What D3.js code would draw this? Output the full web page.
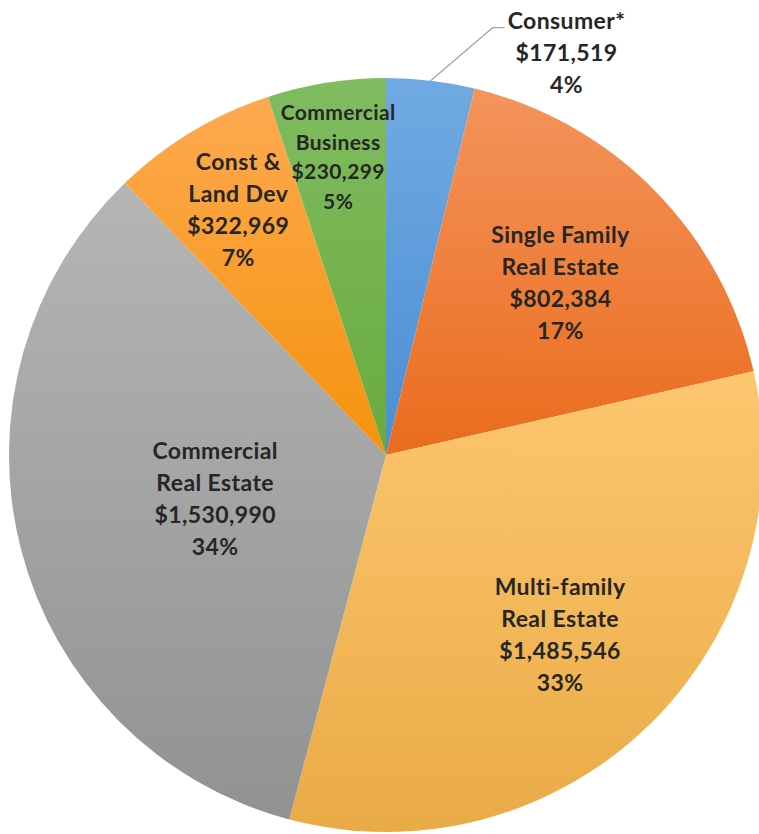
<!DOCTYPE html>
<html>
<head>
<meta charset="utf-8">
<script src="https://cdn.jsdelivr.net/npm/d3@7"></script>
<style>
  html, body { margin: 0; padding: 0; background: #fff; }
  svg text { font-family: Lato, "Open Sans", sans-serif; font-weight: 700; fill: #262626; letter-spacing: 0.4px; }
</style>
</head>
<body>
<div id="chart"></div>
<script>
// data
const categories = ['Consumer*', 'Single Family\nReal Estate', 'Multi-family\nReal Estate',
    'Commercial\nReal Estate', 'Const &\nLand Dev', 'Commercial\nBusiness'];
const values = [171519, 802384, 1485546, 1530990, 322969, 230299];
const percentLabels = ['4%', '17%', '33%', '34%', '7%', '5%'];

// styling / layout
const topColors = ['#71aae2', '#f4945c', '#fec66f', '#b5b5b5', '#fda950', '#80bc60'];
const bottomColors = ['#4a8ed4', '#ea6c1d', '#e9ab46', '#929292', '#f5930c', '#69ab3e'];
const labelRadius = [0, 0.65, 0.665, 0.468, 0.76, 0.80];
const labelSize = [23, 23, 23, 23, 23, 21];
const lineHeight = [32, 32, 32, 32, 32, 29.5];

const width = 759, height = 834;
const cx = 386, cy = 455, R = 377;

const svg = d3.select('#chart').append('svg')
    .attr('width', width)
    .attr('height', height);

const defs = svg.append('defs');
topColors.forEach((c, i) => {
    const g = defs.append('linearGradient')
        .attr('id', 'grad' + i)
        .attr('x1', 0).attr('y1', 0).attr('x2', 0).attr('y2', 1);
    g.append('stop').attr('offset', '0%').attr('stop-color', c);
    g.append('stop').attr('offset', '100%').attr('stop-color', bottomColors[i]);
});

const pie = d3.pie().sort(null).value(d => d)(values);
const arc = d3.arc().innerRadius(0).outerRadius(R);
const fmt = d3.format('$,');

const g = svg.append('g').attr('transform', `translate(${cx},${cy})`);

g.selectAll('path.slice')
    .data(pie)
    .enter().append('path')
    .attr('class', 'slice')
    .attr('d', arc)
    .attr('fill', (d, i) => `url(#grad${i})`);

// inside labels
pie.forEach((d, i) => {
    if (i === 0) return;
    const lines = categories[i].split('\n').concat([fmt(values[i]), percentLabels[i]]);
    const mid = (d.startAngle + d.endAngle) / 2;
    const r = R * labelRadius[i];
    const x = Math.sin(mid) * r;
    const y = -Math.cos(mid) * r;
    const lh = lineHeight[i];
    const t = g.append('text')
        .attr('text-anchor', 'middle')
        .attr('font-size', labelSize[i]);
    lines.forEach((ln, j) => {
        t.append('tspan')
            .attr('x', x)
            .attr('y', y + (j - (lines.length - 1) / 2) * lh)
            .attr('dy', '0.35em')
            .text(ln);
    });
});

// consumer label outside with leader line
const c0 = pie[0];
const mid0 = (c0.startAngle + c0.endAngle) / 2;
const p0 = [Math.sin(mid0) * R, -Math.cos(mid0) * R];
const elbow = [p0[0] + 62, p0[1] - 53];
g.append('polyline')
    .attr('points', [p0, elbow, [elbow[0] + 12, elbow[1]]].map(p => p.join(',')).join(' '))
    .attr('fill', 'none')
    .attr('stroke', '#a6a6a6')
    .attr('stroke-width', 1.3);
const lines0 = [categories[0], fmt(values[0]), percentLabels[0]];
const t0 = g.append('text')
    .attr('text-anchor', 'middle')
    .attr('font-size', labelSize[0]);
lines0.forEach((ln, j) => {
    t0.append('tspan')
        .attr('x', elbow[0] + 74)
        .attr('y', elbow[1] - 7 + j * 32)
        .attr('dy', '0.35em')
        .text(ln);
});
</script>
</body>
</html>
